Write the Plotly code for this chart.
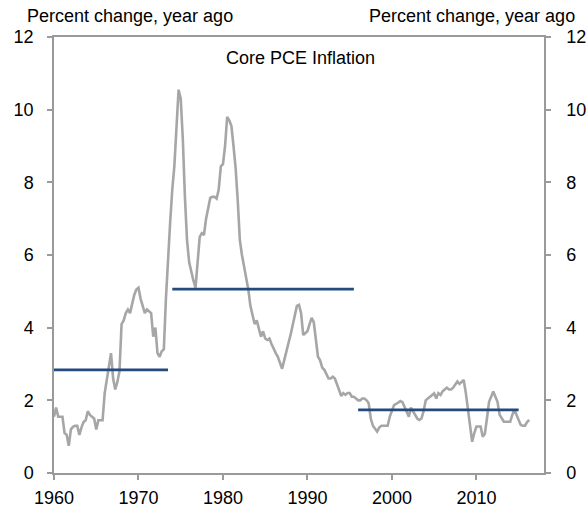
import pandas as pd
import plotly.graph_objects as go

# Core PCE inflation, percent change from year ago (quarterly, from 1960Q1)
core_pce = [
    1.55, 1.8, 1.55, 1.55,   # 1960
    1.55, 1.1, 1.05, 0.75,   # 1961
    1.2, 1.27, 1.3, 1.3,     # 1962
    1.05, 1.25, 1.4, 1.45,   # 1963
    1.7, 1.6, 1.55, 1.5,     # 1964
    1.2, 1.45, 1.45, 1.45,   # 1965
    2.2, 2.6, 2.9, 3.3,      # 1966
    2.6, 2.3, 2.5, 2.8,      # 1967
    4.1, 4.2, 4.4, 4.5,      # 1968
    4.4, 4.7, 4.9, 5.05,     # 1969
    5.1, 4.8, 4.6, 4.4,      # 1970
    4.5, 4.45, 4.4, 3.75,    # 1971
    4.0, 3.3, 3.2, 3.35,     # 1972
    3.4, 4.8, 6.0, 6.9,      # 1973
    7.8, 8.45, 9.5, 10.55,   # 1974
    10.3, 9.2, 7.6, 6.4,     # 1975
    5.8, 5.5, 5.3, 5.1,      # 1976
    5.8, 6.5, 6.6, 6.55,     # 1977
    7.0, 7.3, 7.57, 7.6,     # 1978
    7.6, 7.55, 7.8, 8.44,    # 1979
    8.5, 9.0, 9.8, 9.7,      # 1980
    9.55, 9.0, 8.4, 7.5,     # 1981
    6.4, 6.0, 5.7, 5.3,      # 1982
    5.05, 4.6, 4.35, 4.1,    # 1983
    4.2, 3.95, 3.75, 3.9,    # 1984
    3.7, 3.66, 3.7, 3.55,    # 1985
    3.4, 3.3, 3.2, 3.05,     # 1986
    2.87, 3.1, 3.3, 3.57,    # 1987
    3.8, 4.1, 4.4, 4.6,      # 1988
    4.63, 4.4, 3.8, 3.85,    # 1989
    3.9, 4.1, 4.27, 4.15,    # 1990
    3.6, 3.2, 3.1, 2.9,      # 1991
    2.84, 2.7, 2.6, 2.6,     # 1992
    2.65, 2.6, 2.45, 2.3,    # 1993
    2.12, 2.2, 2.15, 2.2,    # 1994
    2.2, 2.1, 2.1, 2.05,     # 1995
    2.0, 2.0, 2.05, 2.05,    # 1996
    2.0, 1.92, 1.5, 1.3,     # 1997
    1.2, 1.14, 1.25, 1.3,    # 1998
    1.3, 1.3, 1.3, 1.55,     # 1999
    1.73, 1.87, 1.9, 1.95,   # 2000
    1.98, 1.95, 1.8, 1.7,    # 2001
    1.55, 1.8, 1.7, 1.6,     # 2002
    1.5, 1.46, 1.5, 1.7,     # 2003
    2.0, 2.05, 2.1, 2.15,    # 2004
    2.19, 2.05, 2.2, 2.15,   # 2005
    2.25, 2.3, 2.35, 2.3,    # 2006
    2.3, 2.35, 2.42, 2.52,   # 2007
    2.45, 2.5, 2.56, 2.2,    # 2008
    1.73, 1.3, 0.86, 1.1,    # 2009
    1.28, 1.28, 1.28, 1.0,   # 2010
    1.08, 1.5, 1.96, 2.1,    # 2011
    2.24, 2.1, 1.96, 1.6,    # 2012
    1.5, 1.41, 1.41, 1.41,   # 2013
    1.41, 1.6, 1.75, 1.6,    # 2014
    1.45, 1.32, 1.3, 1.3,    # 2015
    1.4, 1.46,               # 2016
]
start_quarter = "1960-01-01"

# Period averages
period_starts = ["1960-01-01", "1974-01-01", "1996-01-01"]
period_ends = ["1973-07-01", "1995-07-01", "2015-01-01"]
period_means = [2.84, 5.06, 1.74]

x_range = ["1960-01-01", "2018-01-01"]
y_ticks = [0, 2, 4, 6, 8, 10, 12]
axis_label = "Percent change, year ago"
title_text = "Core PCE Inflation"

dates = pd.date_range(start_quarter, periods=len(core_pce), freq="QS")

FONT = "Liberation Sans, Arial, sans-serif"
GRAY_AXIS = "#9a9a9a"
FS = 18

fig = go.Figure()
fig.add_trace(go.Scatter(
    x=dates, y=core_pce, mode="lines",
    line=dict(color="#a6a6a6", width=2.6),
    showlegend=False, hoverinfo="skip",
))
for s, e, m in zip(period_starts, period_ends, period_means):
    fig.add_trace(go.Scatter(
        x=[s, e], y=[m, m], mode="lines",
        line=dict(color="#254a7e", width=2.8),
        showlegend=False, hoverinfo="skip",
    ))
# right-hand axis copy
fig.add_trace(go.Scatter(
    x=[x_range[0]], y=[0], yaxis="y2", mode="markers",
    marker=dict(opacity=0), showlegend=False, hoverinfo="skip",
))

fig.update_layout(
    width=587, height=509,
    margin=dict(l=54, r=43, t=37, b=36, autoexpand=False),
    paper_bgcolor="white", plot_bgcolor="white",
    font=dict(family=FONT, size=FS, color="#000000"),
    xaxis=dict(
        type="date", range=x_range, dtick="M120", tick0="1960-01-01",
        tickformat="%Y", showgrid=False, zeroline=False, automargin=False,
        showline=True, linecolor=GRAY_AXIS, linewidth=1.5, mirror=True,
        ticks="outside", ticklen=5, tickcolor=GRAY_AXIS, tickwidth=1.5,
        ticklabelstandoff=3,
        tickfont=dict(family=FONT, size=FS, color="#000000"),
    ),
    yaxis=dict(
        range=[0, 12], tickvals=y_ticks, showgrid=False, zeroline=False,
        automargin=False,
        showline=True, linecolor=GRAY_AXIS, linewidth=1.5,
        ticks="outside", ticklen=5, tickcolor=GRAY_AXIS, tickwidth=1.5,
        ticklabelstandoff=10,
        tickfont=dict(family=FONT, size=FS, color="#000000"),
    ),
    yaxis2=dict(
        range=[0, 12], tickvals=y_ticks, overlaying="y", side="right",
        showgrid=False, zeroline=False, automargin=False,
        showline=True, linecolor=GRAY_AXIS, linewidth=1.5,
        ticks="outside", ticklen=5, tickcolor=GRAY_AXIS, tickwidth=1.5,
        ticklabelstandoff=12,
        tickfont=dict(family=FONT, size=FS, color="#000000"),
    ),
    annotations=[
        dict(text=axis_label, xref="paper", yref="paper", x=-0.06, y=1.0,
             yshift=21, xanchor="left", yanchor="middle", showarrow=False,
             font=dict(family=FONT, size=FS)),
        dict(text=axis_label, xref="paper", yref="paper", x=1.068, y=1.0,
             yshift=21, xanchor="right", yanchor="middle", showarrow=False,
             font=dict(family=FONT, size=FS)),
        dict(text=title_text, xref="paper", yref="paper", x=0.504, y=1.0,
             yshift=-21, xanchor="center", yanchor="middle", showarrow=False,
             font=dict(family=FONT, size=FS)),
    ],
)

fig.write_html(
    "out.html",
    config={"displayModeBar": False},
    post_script="document.body.style.margin='0';document.body.style.overflow='hidden';",
)
